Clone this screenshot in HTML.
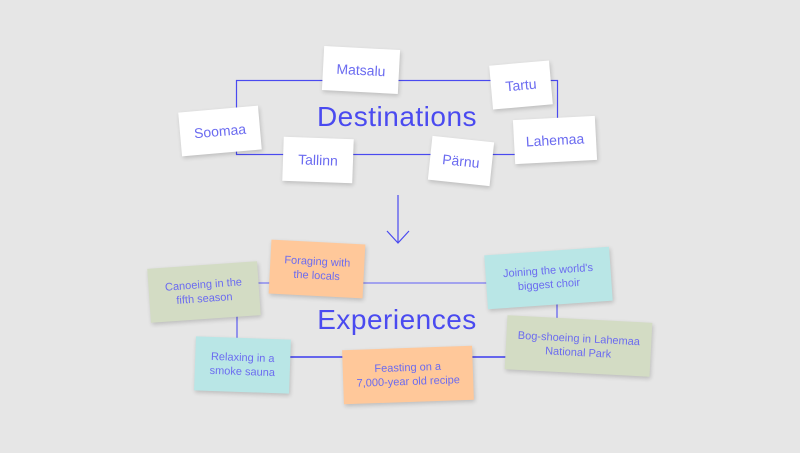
<!DOCTYPE html>
<html><head><style>
body{margin:0;width:800px;height:453px;background:#e6e6e6;position:relative;overflow:hidden;font-family:"Liberation Sans",sans-serif;}
.c{position:absolute;display:flex;align-items:center;justify-content:center;text-align:center;color:#6b6bf0;box-shadow:1px 2px 4px rgba(0,0,0,0.18);line-height:1.3;}
.w{background:#fff;font-size:14px;height:44px;}
.e{font-size:11px;height:54px;}
.t{position:absolute;color:#4a4af0;font-size:28px;transform:translate(-50%,-50%);white-space:nowrap;letter-spacing:0.5px;}
</style></head><body>
<svg width="800" height="453" style="position:absolute;left:0;top:0">
<rect x="236.5" y="80.5" width="321" height="74" fill="none" stroke="#4a4af0" stroke-width="1.2"/>
<line x1="398" y1="195" x2="398" y2="243" stroke="#4a4af0" stroke-width="1.2"/>
<polyline points="387,231 398,243 409,231" fill="none" stroke="#4a4af0" stroke-width="1.2"/>
<line x1="237" y1="283" x2="557" y2="283" stroke="#8c8cf0" stroke-width="1.5"/>
<line x1="237" y1="283" x2="237" y2="357" stroke="#7777ee" stroke-width="1.5"/>
<line x1="557" y1="283" x2="557" y2="357" stroke="#7777ee" stroke-width="1.5"/>
<line x1="237" y1="357" x2="557" y2="357" stroke="#3a3aee" stroke-width="1.5"/>
</svg>
<div class="t" style="left:397px;top:117px">Destinations</div>
<div class="t" style="left:397px;top:320px">Experiences</div>

<div class="c w" style="left:323px;top:48px;width:76px;transform:rotate(3deg)">Matsalu</div>
<div class="c w" style="left:491px;top:63px;width:60px;transform:rotate(-5deg)">Tartu</div>
<div class="c w" style="left:180px;top:109px;width:80px;transform:rotate(-5deg)">Soomaa</div>
<div class="c w" style="left:283px;top:138px;width:70px;transform:rotate(2deg)">Tallinn</div>
<div class="c w" style="left:430px;top:139px;width:62px;transform:rotate(6deg)">Pärnu</div>
<div class="c w" style="left:514px;top:118px;width:82px;transform:rotate(-3deg)">Lahemaa</div>

<div class="c e" style="left:149px;top:265px;width:110px;background:#d3dcc4;transform:rotate(-4deg)">Canoeing in the<br>fifth season</div>
<div class="c e" style="left:270px;top:242px;width:94px;background:#ffc89a;transform:rotate(3deg)">Foraging with<br>the locals</div>
<div class="c e" style="left:486px;top:251px;width:125px;background:#b9e6e6;transform:rotate(-4deg)">Joining the world's<br>biggest choir</div>
<div class="c e" style="left:506px;top:319px;width:145px;background:#d3dcc4;transform:rotate(3deg)">Bog-shoeing in Lahemaa<br>National Park</div>
<div class="c e" style="left:195px;top:338px;width:95px;background:#b9e6e6;transform:rotate(2deg)">Relaxing in a<br>smoke sauna</div>
<div class="c e" style="left:343px;top:348px;width:130px;background:#ffc89a;transform:rotate(-2deg)">Feasting on a<br>7,000-year old recipe</div>
</body></html>
